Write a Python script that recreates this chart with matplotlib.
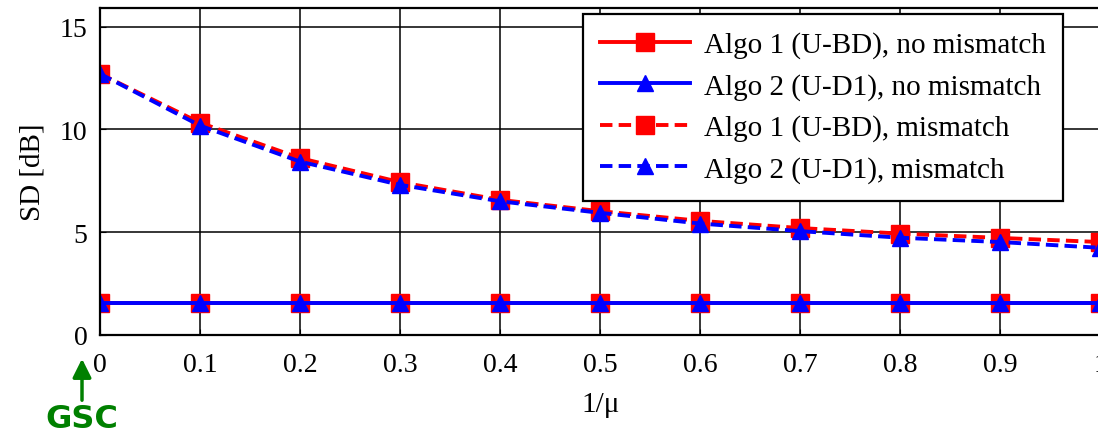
import matplotlib
matplotlib.use('Agg')
import matplotlib.pyplot as plt

# data
inv_mu = [0, 0.1, 0.2, 0.3, 0.4, 0.5, 0.6, 0.7, 0.8, 0.9, 1.0]
algo1_nomis = [1.55] * 11
algo2_nomis = [1.55] * 11
algo1_mis = [12.7, 10.32, 8.6, 7.43, 6.57, 6.02, 5.55, 5.2, 4.93, 4.72, 4.52]
algo2_mis = [12.7, 10.18, 8.43, 7.3, 6.5, 5.94, 5.42, 5.05, 4.73, 4.52, 4.24]
x_ticks = [0, 0.1, 0.2, 0.3, 0.4, 0.5, 0.6, 0.7, 0.8, 0.9, 1]
x_ticklabels = ['0', '0.1', '0.2', '0.3', '0.4', '0.5', '0.6', '0.7', '0.8', '0.9', '1']
y_ticks = [0, 5, 10, 15]
labels = ['Algo 1 (U-BD), no mismatch', 'Algo 2 (U-D1), no mismatch',
          'Algo 1 (U-BD), mismatch', 'Algo 2 (U-D1), mismatch']

plt.rcParams['font.family'] = ['Liberation Serif', 'DejaVu Serif']

fig = plt.figure(figsize=(10.98, 4.35), dpi=100)
ax = fig.add_axes([0.0911, 0.2276, 0.911, 0.7517])

dash = (0, (3.2, 1.6))
ax.plot(inv_mu, algo1_nomis, color='#ff0000', lw=2.8, marker='s', ms=13, label=labels[0])
ax.plot(inv_mu, algo2_nomis, color='#0000ff', lw=2.8, marker='^', ms=12, label=labels[1])
ax.plot(inv_mu, algo1_mis, color='#ff0000', lw=2.8, ls=dash, marker='s', ms=13, label=labels[2])
ax.plot(inv_mu, algo2_mis, color='#0000ff', lw=2.8, ls=dash, marker='^', ms=12, label=labels[3])

ax.set_xlim(0, 1)
ax.set_ylim(0, 15.9)
ax.set_xticks(x_ticks)
ax.set_xticklabels(x_ticklabels)
ax.set_yticks(y_ticks)
ax.tick_params(direction='in', length=4, labelsize=20, colors='black')
ax.tick_params(axis='x', pad=12)
ax.tick_params(axis='y', pad=9)
ax.grid(True, color='black', lw=1.1)
for s in ax.spines.values():
    s.set_linewidth(1.6)

ax.set_xlabel('1/μ', fontsize=21, labelpad=10)
ax.set_ylabel('SD [dB]', fontsize=21, labelpad=10)

leg = ax.legend(loc='upper right', bbox_to_anchor=(1063 / 1098, 1 - 15 / 435),
                bbox_transform=fig.transFigure, fontsize=21, frameon=True,
                fancybox=False, edgecolor='black', framealpha=1,
                handlelength=3.1, borderpad=0.6, labelspacing=0.5,
                handletextpad=0.45, borderaxespad=0, markerscale=1.0)
leg.get_frame().set_linewidth(1.6)

# GSC marker below x = 0
ax.annotate('', xy=(82 / 1098, 1 - 357 / 435), xytext=(82 / 1098, 1 - 404 / 435),
            xycoords='figure fraction', textcoords='figure fraction',
            arrowprops=dict(arrowstyle='-|>', color='#008000', lw=2.5, mutation_scale=28))
fig.text(82 / 1098, 1 - 420 / 435, 'GSC', ha='center', va='center', fontsize=23,
         fontweight='bold', color='#008000', family='DejaVu Sans')

fig.savefig('out.png', dpi=100)
